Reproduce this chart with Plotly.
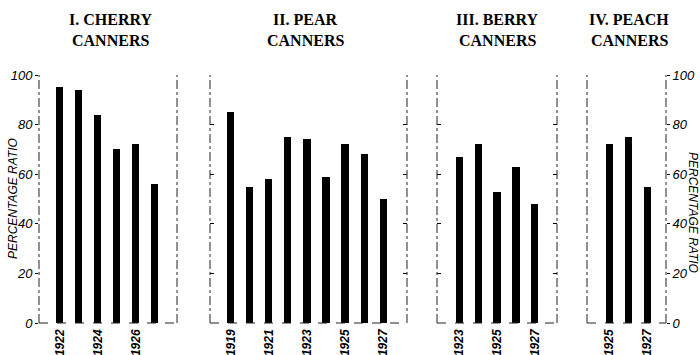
import plotly.graph_objects as go

# ---- data ----
cherry_years = [1922, 1923, 1924, 1925, 1926, 1927]
cherry_vals = [95, 94, 84, 70, 72, 56]

pear_years = [1919, 1920, 1921, 1922, 1923, 1924, 1925, 1926, 1927]
pear_vals = [85, 55, 58, 75, 74, 59, 72, 68, 50]

berry_years = [1923, 1924, 1925, 1926, 1927]
berry_vals = [67, 72, 53, 63, 48]

peach_years = [1925, 1926, 1927]
peach_vals = [72, 75, 55]

titles = [("I. CHERRY", "CANNERS"), ("II. PEAR", "CANNERS"),
          ("III. BERRY", "CANNERS"), ("IV. PEACH", "CANNERS")]
y_ticks = [0, 20, 40, 60, 80, 100]
axis_title = "PERCENTAGE RATIO"

panels = [
    (cherry_years, cherry_vals, [1922, 1924, 1926]),
    (pear_years, pear_vals, [1919, 1921, 1923, 1925, 1927]),
    (berry_years, berry_vals, [1923, 1925, 1927]),
    (peach_years, peach_vals, [1925, 1927]),
]

# ---- layout geometry (pixels in a 700x355 canvas) ----
W, H = 700, 355
px_dom = [(39, 177), (210, 407), (437, 557), (587, 666)]
x_ranges = [(1920.9, 1928.16), (1917.9, 1928.26), (1921.84, 1928.16), (1923.84, 1928.0)]
y_dom = [(H - 323) / H, (H - 75) / H]
title_cx = [111, 305, 497, 629]

tick_font = dict(family="Liberation Sans", size=13, color="black", style="italic")
year_font = dict(family="Liberation Sans", size=12, color="black", style="italic", weight="bold")
title_font = dict(family="Liberation Serif", size=16, color="black", weight="bold")

fig = go.Figure()
layout = dict(
    width=W, height=H, margin=dict(l=0, r=0, t=0, b=0, autoexpand=False),
    paper_bgcolor="white", plot_bgcolor="white", showlegend=False,
    bargap=0,
)
shapes = []
annotations = []

for i, (years, vals, tv) in enumerate(panels):
    n = i + 1
    xa = "x" if n == 1 else f"x{n}"
    ya = "y" if n == 1 else f"y{n}"
    fig.add_trace(go.Bar(x=years, y=vals, width=0.37, marker=dict(color="black", line=dict(width=0)),
                         xaxis=xa, yaxis=ya, hoverinfo="skip"))
    xkey = "xaxis" if n == 1 else f"xaxis{n}"
    ykey = "yaxis" if n == 1 else f"yaxis{n}"
    layout[xkey] = dict(
        domain=[px_dom[i][0] / W, px_dom[i][1] / W], range=list(x_ranges[i]),
        anchor=ya, tickmode="array", tickvals=tv, ticktext=[str(v) for v in tv],
        tickangle=-90, tickfont=year_font, showgrid=False, zeroline=False,
        showline=False, ticks="", ticklabelstandoff=3, automargin=False,
    )
    yd = dict(
        domain=y_dom, range=[0, 100], anchor=xa, showgrid=False, zeroline=False,
        showline=False, tickmode="array", tickvals=y_ticks, automargin=False,
    )
    if n == 1:
        yd.update(side="left", ticks="outside", ticklen=3, tickcolor="black",
                  showticklabels=True, tickfont=tick_font, ticktext=[str(v) for v in y_ticks])
    elif n == 4:
        yd.update(side="right", ticks="outside", ticklen=3, tickcolor="black",
                  showticklabels=True, tickfont=tick_font, ticktext=[str(v) for v in y_ticks],
                  ticklabelstandoff=0)
    else:
        yd.update(side="left", ticks="inside", ticklen=4, tickcolor="black",
                  showticklabels=False, mirror="ticks")
    layout[ykey] = yd

    xr = f"{xa} domain"
    yr = f"{ya} domain"
    line_style = dict(color="#222", width=1, dash="dashdot")
    shapes.append(dict(type="line", xref=xr, yref=yr, x0=0, x1=0, y0=0, y1=1, line=line_style))
    shapes.append(dict(type="line", xref=xr, yref=yr, x0=1, x1=1, y0=0, y1=1, line=line_style))
    shapes.append(dict(type="line", xref=xr, yref=yr, x0=0, x1=1, y0=0, y1=0,
                       line=dict(color="#222", width=1, dash="dash")))

    annotations.append(dict(text=titles[i][0], x=title_cx[i] / W, y=(H - 19) / H, xref="paper", yref="paper",
                            showarrow=False, font=title_font, xanchor="center", yanchor="middle"))
    annotations.append(dict(text=titles[i][1], x=title_cx[i] / W, y=(H - 41) / H, xref="paper", yref="paper",
                            showarrow=False, font=title_font, xanchor="center", yanchor="middle"))

ax_font = dict(family="Liberation Sans", size=12, color="black", style="italic")
annotations.append(dict(text=axis_title, x=13 / W, y=(H - 199) / H, xref="paper", yref="paper",
                        showarrow=False, textangle=-90, font=ax_font, xanchor="center", yanchor="middle"))
annotations.append(dict(text=axis_title, x=693 / W, y=(H - 212) / H, xref="paper", yref="paper",
                        showarrow=False, textangle=90, font=ax_font,
                        xanchor="center", yanchor="middle"))

layout["shapes"] = shapes
layout["annotations"] = annotations
fig.update_layout(**layout)
fig.write_html("out.html", config={"displayModeBar": False},
               post_script="document.body.style.margin='0';")
